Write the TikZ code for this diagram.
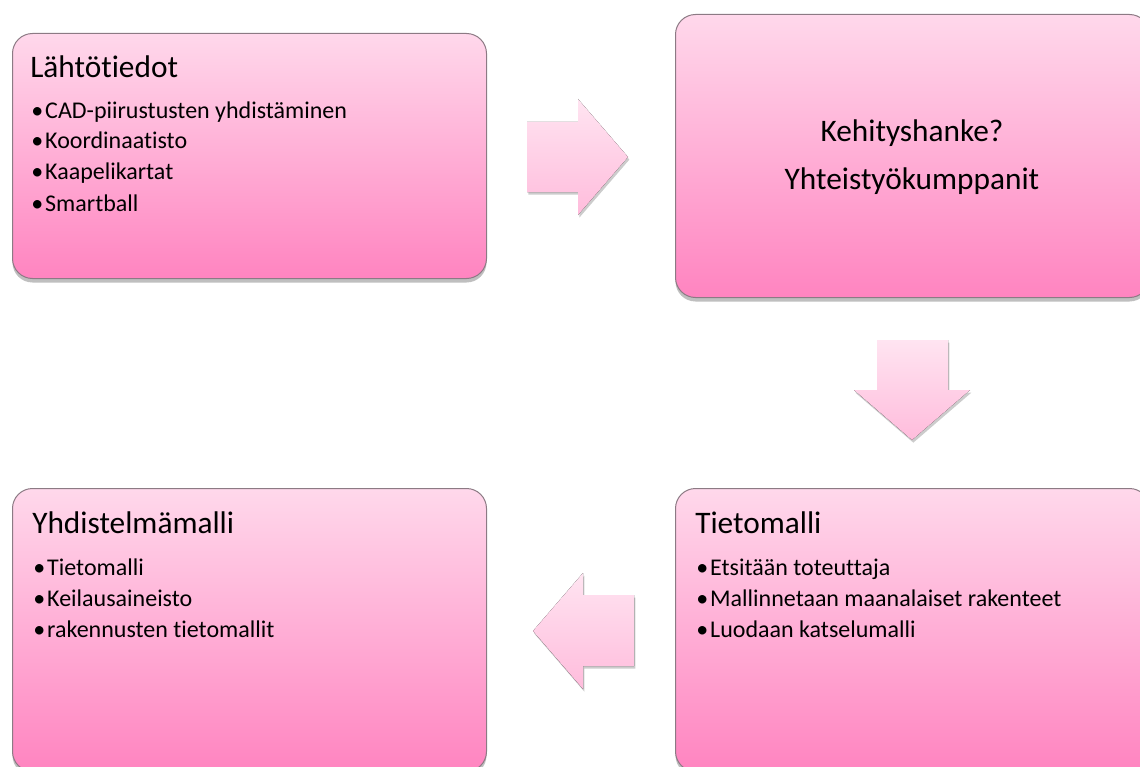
\documentclass[tikz,border=0pt]{standalone}
\usepackage{fontspec}
\setmainfont{Carlito}[Ligatures=NoCommon]
\usetikzlibrary{shadows}

\definecolor{vaaleapinkki}{RGB}{255,216,235}
\definecolor{tummapinkki}{RGB}{255,132,192}
\definecolor{reunaharmaa}{RGB}{140,122,132}
\definecolor{nuoliylä}{RGB}{255,228,241}
\definecolor{nuoliala}{RGB}{255,188,220}

\newcommand{\luettelomerkki}{•\hspace{1.5pt}}

\tikzset{
  lohko/.style={draw=reunaharmaa, line width=0.75pt, rounded corners=15pt,
    top color=vaaleapinkki, bottom color=tummapinkki, anchor=north west,
    minimum width=355.5pt, inner sep=0pt,
    drop shadow={shadow xshift=0pt, shadow yshift=-3pt, opacity=0.25, fill=black}},
  nuoli/.style={top color=nuoliylä, bottom color=nuoliala,
    drop shadow={shadow xshift=1pt, shadow yshift=-2pt, opacity=0.2, fill=black}},
  otsikko/.style={font=\fontsize{23.5}{28}\selectfont, anchor=base west, inner sep=0pt},
  kohta/.style={font=\fontsize{18}{21}\selectfont, anchor=base west, inner sep=0pt},
  keski/.style={font=\fontsize{23.5}{28}\selectfont, anchor=base, inner sep=0pt}
}

\begin{document}
\begin{tikzpicture}[x=0.75pt,y=-0.75pt]

\useasboundingbox (0,0) rectangle (1140,767) ;

% laatikot

\node[lohko, minimum height=183.75pt] (lahto) at (12,33) {} ;
\node[lohko, minimum height=212.25pt] (kehitys) at (675,14) {} ;
\node[lohko, minimum height=212.25pt] (tieto) at (675,488) {} ;
\node[lohko, minimum height=212.25pt] (yhdistelma) at (12,488) {} ;

% nuolet

\fill[nuoli] (527,122) -- (578,122) -- (578,99) -- (628,157) -- (578,215)
  -- (578,192) -- (527,192) -- cycle ;
\fill[nuoli] (877,340) -- (948,340) -- (948,390) -- (970,390) -- (912,440)
  -- (854,390) -- (877,390) -- cycle ;
\fill[nuoli] (634,595) -- (583,595) -- (583,573) -- (533,631) -- (583,689)
  -- (583,666) -- (634,666) -- cycle ;

% Lähtötiedot

\node[otsikko] (lahto-otsikko) at ([shift={(18,45)}]lahto.north west) {Lähtötiedot} ;
\foreach \teksti [count=\i from 0] in {CAD-piirustusten yhdistäminen, Koordinaatisto,
    Kaapelikartat, Smartball}
  \node[kohta] (lahto-\i) at ([shift={(19,{85+31*\i})}]lahto.north west) {\luettelomerkki\teksti} ;

% Kehityshanke

\node[keski] (kehitys-1) at (912,142) {Kehityshanke?} ;
\node[keski] (kehitys-2) at (912,190) {Yhteistyökumppanit} ;

% Tietomalli

\node[otsikko] (tieto-otsikko) at ([shift={(20,45)}]tieto.north west) {Tietomalli} ;
\foreach \teksti [count=\i from 0] in {Etsitään toteuttaja,
    Mallinnetaan maanalaiset rakenteet, Luodaan katselumalli}
  \node[kohta] (tieto-\i) at ([shift={(21,{87+31*\i})}]tieto.north west) {\luettelomerkki\teksti} ;

% Yhdistelmämalli

\node[otsikko] (yhd-otsikko) at ([shift={(20,45)}]yhdistelma.north west) {Yhdistelmämalli} ;
\foreach \teksti [count=\i from 0] in {Tietomalli, Keilausaineisto,
    rakennusten tietomallit}
  \node[kohta] (yhd-\i) at ([shift={(21,{87+31*\i})}]yhdistelma.north west) {\luettelomerkki\teksti} ;

\end{tikzpicture}
\end{document}
